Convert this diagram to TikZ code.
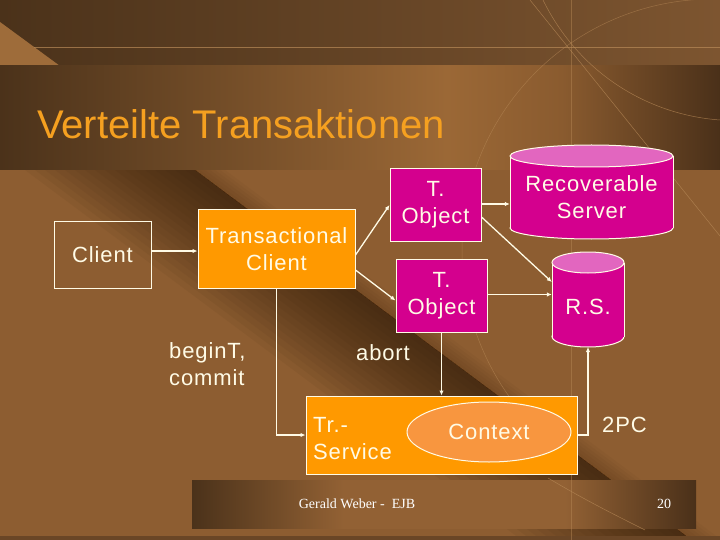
\documentclass[tikz,border=0pt]{standalone}
\usepackage{fontspec}
\setmainfont{Liberation Sans}
\newfontfamily\nodefam[LetterSpace=4]{Liberation Sans}
\newfontfamily\footfam{Liberation Serif}
\usetikzlibrary{arrows.meta,shapes.geometric}
\definecolor{bgmid}{HTML}{8D5D31}
\definecolor{bgdark}{HTML}{4B321A}
\definecolor{bglight}{HTML}{9B6836}
\definecolor{bgmidtwo}{HTML}{8A5B2F}
\definecolor{bgdarktwo}{HTML}{4A3019}
\definecolor{topright}{HTML}{7D5530}
\definecolor{trianC}{HTML}{9E6C3A}
\definecolor{shadowC}{HTML}{2A1808}
\definecolor{bottomC}{HTML}{6A4626}
\definecolor{footlight}{HTML}{926134}
\definecolor{decoC}{HTML}{B88A58}
\definecolor{orangeC}{HTML}{FF9900}
\definecolor{ctxC}{HTML}{F8963F}
\definecolor{tmag}{HTML}{D4008E}
\definecolor{pinktop}{HTML}{E266BF}
\definecolor{cream}{HTML}{FFFBE6}
\definecolor{titleC}{HTML}{F5A020}
\pgfdeclarehorizontalshading{titleband}{100bp}{color(0bp)=(bgdark); color(25bp)=(bgdark); color(56bp)=(bglight); color(64bp)=(bgmidtwo); color(75bp)=(bgdarktwo); color(100bp)=(bgdarktwo)}
\pgfdeclarehorizontalshading{footband}{100bp}{color(0bp)=(bgdark); color(25bp)=(bgdark); color(40bp)=(footlight); color(62bp)=(footlight); color(75bp)=(bgdarktwo); color(100bp)=(bgdarktwo)}
\newcommand\nfont{\nodefam\fontsize{22}{27}\selectfont}
\begin{document}
\begin{tikzpicture}[x=1pt,y=-1pt,
  box/.style={draw=cream, line width=1pt, text=cream, font=\nfont, align=center, inner sep=0pt},
  lbl/.style={text=cream, font=\nfont, align=left, inner sep=0pt},
  arr/.style={draw=cream, line width=1.3pt, -{Latex[length=5pt,width=4.5pt]}},
  deco/.style={draw=decoC, line width=0.5pt, draw opacity=0.7},
  cylbody/.style={fill=tmag, draw=cream, line width=1pt},
  cyltop/.style={fill=pinktop, draw=cream, line width=1pt},
  foottext/.style={anchor=base, inner sep=0pt, text=white, font=\footfam\fontsize{14}{16}\selectfont}]
\useasboundingbox (0,0) rectangle (720,540);
\clip (0,0) rectangle (720,540);
% ---------- background ----------
\fill[bgmid] (0,0) rectangle (720,540);
\foreach \d in {10,20,...,170}
  \fill[shadowC, opacity=0.055] (195,170) -- (705,550) -- ({705-\d},550) -- ({195-\d},170) -- cycle;
\foreach \d in {5,10,...,30}
  \fill[shadowC, opacity=0.035] (195,170) -- (705,550) -- ({705+\d},550) -- ({195+\d},170) -- cycle;
\shade[left color=bgdark, right color=topright] (0,0) rectangle (720,66);
\fill[trianC] (0,22) -- (60,66) -- (0,66) -- cycle;
\shade[shading=titleband] (0,66) rectangle (720,170);
\fill[bottomC] (0,536) rectangle (720,540);
\shade[shading=footband] (192,480) rectangle (696,528);
% decorative thin lines
\draw[deco] (34,47) -- (720,47);
\draw[deco, draw opacity=0.45] (571,0) -- (571,540);
\draw[deco] (530,0) -- (720,236);
\draw[deco] (543,0) .. controls (580,75) and (650,115) .. (720,120);
\draw[deco, draw opacity=0.55] (713,250) ++(91.4:251pt) arc[start angle=91.4, end angle=218, radius=251pt];
\draw[deco] (548,478) .. controls (585,500) and (615,515) .. (645,530);
% ---------- title and footer ----------
\node[anchor=base west, inner sep=0pt, text=titleC, font=\fontsize{40}{48}\selectfont] (title) at (37,139) {Verteilte Transaktionen};
\node[foottext] (foot) at (357,508) {Gerald Weber -\ \ EJB};
\node[foottext] (pg) at (664,508) {20};
% ---------- cylinders ----------
\filldraw[cylbody] (591.5,228) ellipse [x radius=81.5pt, y radius=11pt];
\fill[tmag] (510,156) rectangle (673,228);
\draw[cream, line width=1pt] (510,156) -- (510,228) (673,156) -- (673,228);
\filldraw[cyltop] (591.5,156) ellipse [x radius=81.5pt, y radius=11pt];
\node[lbl, align=center, minimum width=163, minimum height=72] (recsrv) at (591.5,197.5) {Recoverable\\Server};
\filldraw[cylbody] (588,336.5) ellipse [x radius=36pt, y radius=10.5pt];
\fill[tmag] (552,262.5) rectangle (624,336.5);
\draw[cream, line width=1pt] (552,262.5) -- (552,336.5) (624,262.5) -- (624,336.5);
\filldraw[cyltop] (588,262.5) ellipse [x radius=36pt, y radius=10.5pt];
\node[lbl, align=center, minimum width=72, minimum height=74] (rs) at (588,307) {R.S.};
\coordinate (rsbot) at (588,347);
% ---------- nodes ----------
\node[box, minimum width=97, minimum height=66] (client) at (102.5,255) {Client};
\node[box, fill=orangeC, minimum width=157, minimum height=78] (tc) at (276.5,249) {Transactional\\Client};
\node[box, fill=tmag, minimum width=91, minimum height=72] (tobj1) at (435.5,205) {T.\\Object};
\node[box, fill=tmag, minimum width=91, minimum height=73] (tobj2) at (441.5,295.5) {T.\\Object};
\node[box, fill=orangeC, minimum width=271, minimum height=78] (trs) at (441.5,435) {};
\node[box, ellipse, fill=ctxC, minimum width=164, minimum height=60] (ctx) at (489,432) {Context};
\node[lbl, anchor=west] (trlbl) at (313,439) {Tr.-\\Service};
\node[lbl, anchor=west] (bc) at (169,364) {beginT,\\commit};
\node[lbl] (abort) at (383,353) {abort};
\node[lbl, anchor=west] (pc) at (602,425) {2PC};
% ---------- connectors ----------
\coordinate (ca) at ([yshift=4pt]client.east);
\draw[arr] (ca) -- (ca -| tc.west);
\draw[arr] ([yshift=-6pt]tc.east) -- (tobj1.west);
\draw[arr] ([yshift=-21pt]tc.east) -- ([yshift=-5pt]tobj2.west);
\draw[arr] ([yshift=1pt]tobj1.east) -- ([yshift=1pt]tobj1.east -| recsrv.west);
\draw[arr] ([yshift=-12pt]tobj1.east) -- ([yshift=25pt]rs.west);
\draw[arr] ([yshift=1pt]tobj2.east) -- ([yshift=1pt]tobj2.east -| rs.west);
\draw[arr] (tobj2.south) -- (tobj2.south |- trs.north);
\draw[arr] (tc.south) |- (trs.west);
\draw[arr] (trs.east) -| (rsbot);
\end{tikzpicture}
\end{document}
